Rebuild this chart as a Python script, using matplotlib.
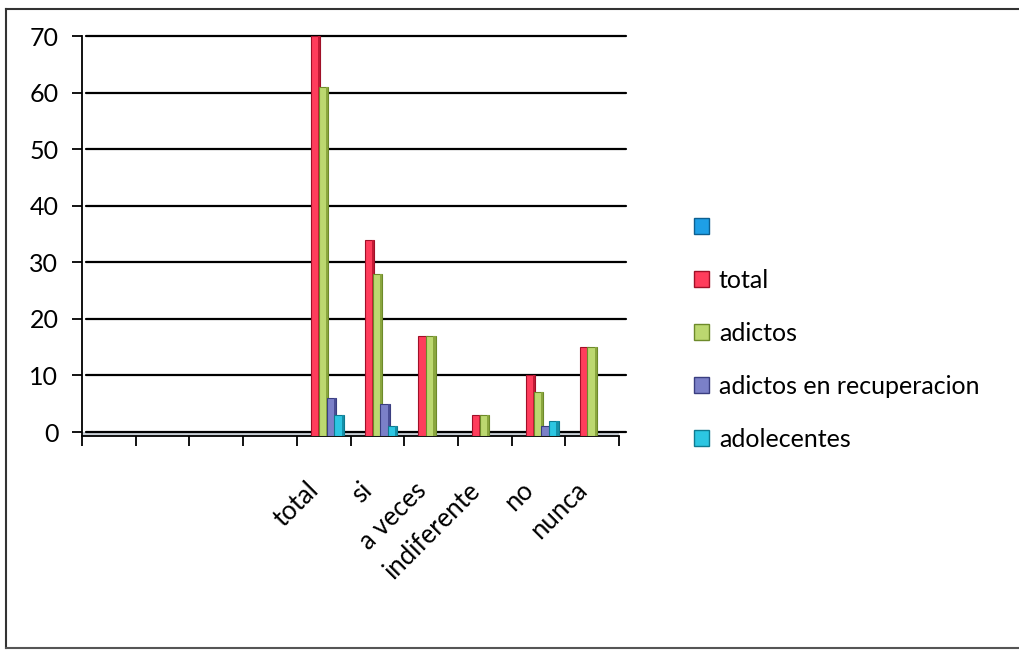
import matplotlib
matplotlib.use("Agg")
import matplotlib.pyplot as plt
from matplotlib.patches import Patch
from matplotlib.lines import Line2D
import numpy as np

plt.rcParams['font.family'] = ['Lato', 'DejaVu Sans']

categories = ['', '', '', '', 'total', 'si', 'a veces', 'indiferente', 'no', 'nunca']
series_names = ['', 'total', 'adictos', 'adictos en recuperacion', 'adolecentes']
blank_vals = [0, 0, 0, 0, 0, 0, 0, 0, 0, 0]
total_vals = [0, 0, 0, 0, 70, 34, 17, 3, 10, 15]
adictos_vals = [0, 0, 0, 0, 61, 28, 17, 3, 7, 15]
recup_vals = [0, 0, 0, 0, 6, 5, 0, 0, 1, 0]
adol_vals = [0, 0, 0, 0, 3, 1, 0, 0, 2, 0]
yticks = [0, 10, 20, 30, 40, 50, 60, 70]

series_vals = [blank_vals, total_vals, adictos_vals, recup_vals, adol_vals]
face_colors = ['#1e9fe6', '#ff3d5c', '#bcd870', '#7b80c8', '#2cc6e2']
side_colors = ['#0f6fa8', '#c21a35', '#8aa63e', '#4a4e96', '#1590a8']
edge_colors = ['#0d5f90', '#a01028', '#6d8a2a', '#3a3e80', '#0f7a90']

fig = plt.figure(figsize=(10.2, 6.5), dpi=100)
H = 650.0
W = 1020.0
ax = fig.add_axes([82 / W, (H - 436) / H, (619 - 82) / W, (436 - 36) / H])

ymin = -0.7
ax.set_xlim(0, len(categories))
ax.set_ylim(ymin, 70)

x = np.arange(len(categories))
bw = 0.175
off0 = 0.12
side_w = 0.04

# floor
ax.fill_between([0, len(categories)], ymin, 0, color='#c9cfd6', zorder=1, lw=0)

# gridlines
for yv in yticks:
    ax.plot([0.07, len(categories) + 0.13], [yv, yv], color='black', lw=1.6,
            zorder=2, clip_on=False, solid_capstyle='round')

for k, vals in enumerate(series_vals):
    vals = np.array(vals, dtype=float)
    pos = x + off0 + k * bw + bw / 2 - 0.03 * k
    mask = vals > 0
    ax.bar(pos[mask], vals[mask] - ymin, bottom=ymin, width=bw,
           color=face_colors[k], edgecolor=edge_colors[k], linewidth=0.8, zorder=3 + k)
    ax.bar(pos[mask] + bw / 2 - side_w / 2, vals[mask] - ymin, bottom=ymin, width=side_w,
           color=side_colors[k], linewidth=0, zorder=3 + k)

ax.set_yticks(yticks)
ax.set_yticklabels([str(v) for v in yticks], fontsize=18)
ax.tick_params(axis='y', direction='out', length=7, width=1.3, pad=10)

ax.set_xticks(np.arange(len(categories) + 1), minor=True)
ax.set_xticks(x + 0.5)
ax.set_xticklabels(categories, fontsize=18.5, rotation=45, ha='right', va='top')
ax.tick_params(axis='x', which='major', length=0, pad=30)
ax.tick_params(axis='x', which='minor', direction='out', length=7, width=1.3)

for s in ['top', 'right']:
    ax.spines[s].set_visible(False)
ax.spines['left'].set_linewidth(1.3)
ax.spines['bottom'].set_linewidth(1.3)

handles = [Patch(facecolor=face_colors[k], edgecolor=edge_colors[k], linewidth=1.0)
           for k in range(len(series_names))]
fig.legend(handles, series_names, loc='upper left', bbox_to_anchor=(684 / W, 1 - 206 / H),
           frameon=False, fontsize=18, handlelength=0.6, handleheight=0.6,
           handletextpad=0.4, labelspacing=1.2, borderaxespad=0)

# outer frame
fig.add_artist(Line2D([6 / W, 6 / W], [1 - 9 / H, 1 - 648 / H], color='#333333', lw=1.5))
fig.add_artist(Line2D([6 / W, 1.0], [1 - 9 / H, 1 - 9 / H], color='#333333', lw=1.5))
fig.add_artist(Line2D([6 / W, 1.0], [1 - 648 / H, 1 - 648 / H], color='#555555', lw=1.5))

fig.savefig('out.png', dpi=100)
